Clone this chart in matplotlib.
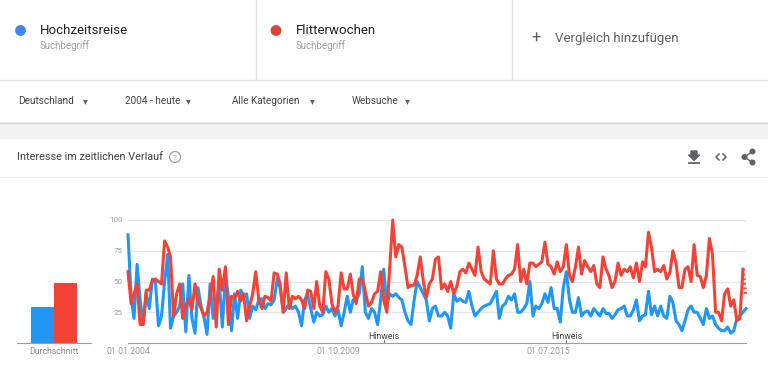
import pandas as pd
import matplotlib
matplotlib.use("Agg")
import matplotlib.pyplot as plt
from matplotlib.patches import Circle, Polygon

plt.rcParams['font.family'] = ['Roboto', 'DejaVu Sans']

# data (monthly values, Jan 2004 onwards)
terms = ['Hochzeitsreise', 'Flitterwochen']
term_kind = 'Suchbegriff'
filters = ['Deutschland', '2004 - heute', 'Alle Kategorien', 'Websuche']
averages = [29, 49]
start_month = '2004-01-01'

hochzeitsreise = [
    88, 38, 20, 64, 35, 15, 40, 28, 52, 50, 14, 22, 50, 72, 12, 22, 25, 30, 48, 9,
    55, 20, 8, 45, 30, 20, 7, 48, 20, 30, 50, 13, 55, 38, 10, 40, 20, 43, 38, 40,
    20, 30, 27,
    35, 36, 28, 32, 31, 35, 52, 45, 25, 28, 32, 28, 30, 25, 14, 35, 40, 28, 17, 25,
    22, 23, 30, 25, 28, 22, 27, 14, 25, 38, 25, 35, 35, 40, 62, 25, 20, 28, 25, 15,
    35, 60, 30, 40, 38, 40, 37, 35, 25, 18, 15, 35, 50, 45, 40, 35, 18, 28, 30, 22,
    22, 25, 22, 12, 40, 34, 36, 34, 33, 42, 30, 22, 25, 28, 30, 31, 32, 37, 42, 20,
    30, 32, 38,
    35, 40, 25, 25, 28, 32, 50, 22, 30, 28, 32, 40, 33, 45, 28, 28, 17, 45, 58, 35,
    25, 25, 37, 22, 25, 26, 22, 28, 25, 22, 28, 24, 24, 20, 23, 27, 28, 30, 22, 22,
    27, 35, 18, 22, 23, 42, 23, 30, 22, 30, 22, 20, 38, 33, 18, 15, 10, 18, 27, 30,
    25, 25, 20, 15, 28, 20, 22, 15, 12, 10, 10, 13, 8, 10, 20, 22, 25, 28,
]
flitterwochen = [
    58, 32, 40, 48, 15, 15, 43, 43, 51, 52, 50, 48, 83, 78, 70, 22, 40, 48, 20, 30,
    36, 27, 48, 34, 28, 22, 25, 38, 54, 13, 60, 43, 62, 15, 38, 36, 42, 34, 40, 18,
    30, 40, 58,
    35, 28, 38, 37, 34, 57, 56, 48, 25, 57, 28, 38, 36, 38, 35, 28, 43, 42, 28, 50,
    30, 25, 58, 52, 32, 25, 30, 57, 44, 44, 56, 40, 32, 52, 52, 42, 30, 33, 40, 42,
    58, 35, 25, 60, 100, 70, 80, 78, 62, 45, 47, 47, 55, 70, 50, 37, 48, 52, 68, 70,
    44, 48, 42, 50, 40, 46, 58, 60, 57, 65, 60, 55, 78, 58, 52, 50, 48, 75, 52, 48,
    48, 52, 55,
    56, 60, 80, 50, 60, 48, 65, 65, 62, 64, 66, 82, 64, 62, 56, 66, 58, 62, 80, 55,
    50, 62, 78, 56, 67, 62, 58, 63, 48, 45, 70, 60, 55, 45, 50, 65, 55, 60, 58, 62,
    53, 65, 50, 66, 62, 90, 78, 58, 60, 58, 63, 52, 57, 75, 65, 45, 45, 60, 62, 50,
    80, 55, 54, 45, 55, 85, 72, 25, 25, 18, 40, 44, 30, 35, 18, 20, 60, 38,
]

yticks = [25, 50, 75, 100]
tick_dates = ['2004-01-01', '2009-10-01', '2015-07-01']
tick_labels = ['01.01.2004', '01.10.2009', '01.07.2015']
note_dates = ['2011-01-01', '2016-01-01']

BLUE = '#2196f3'
RED = '#f44336'
DOT_BLUE = '#4285f4'
DOT_RED = '#db4437'
ICON = '#5f6368'
W, H = 768, 383


def box(x0, y0, x1, y1):  # pixel box (top-left origin) -> figure rect
    return [x0 / W, 1 - y1 / H, (x1 - x0) / W, (y1 - y0) / H]


fig = plt.figure(figsize=(W / 100, H / 100), dpi=100, facecolor='white')

# page furniture drawn in pixel coordinates
ui = fig.add_axes([0, 0, 1, 1])
ui.set_xlim(0, W)
ui.set_ylim(H, 0)
ui.axis('off')

ui.plot([256, 256], [0, 79], color='#e0e0e0', lw=1)
ui.plot([512, 512], [0, 79], color='#e0e0e0', lw=1)
ui.plot([0, W], [79.5, 79.5], color='#e6e6e6', lw=1)

for x, term, dot in zip([20.5, 276], terms, [DOT_BLUE, DOT_RED]):
    ui.add_patch(Circle((x, 30.5), 4.7, color=dot))
    ui.text(x + 19.5, 30.5, term, fontsize=9.5, color='#212121', va='center')
    ui.text(x + 19.5, 46, term_kind, fontsize=7, color='#9e9e9e', va='center')
ui.text(536.5, 38, '+', fontsize=12, color='#616161', ha='center', va='center')
ui.text(555, 38.5, 'Vergleich hinzufügen', fontsize=9.5, color='#616161', va='center')

for x, label, arrow in zip([18, 125, 232, 352], filters, [85, 188, 312, 407]):
    ui.text(x, 101, label, fontsize=7.2, color='#424242', va='center')
    ui.text(arrow, 101, '▾', fontsize=7, color='#616161', ha='center', va='center')

ui.fill_between([0, W], 122, 139, color='#f2f2f2', lw=0)
ui.plot([0, W], [122.5, 122.5], color='#d6d6d6', lw=1)

ui.text(17, 157, 'Interesse im zeitlichen Verlauf', fontsize=7.8, color='#424242', va='center')
ui.add_patch(Circle((175, 157), 5.5, fill=False, ec='#9e9e9e', lw=0.9))
ui.text(175, 157.5, '?', fontsize=6, color='#9e9e9e', ha='center', va='center')
ui.plot([0, W], [176.5, 176.5], color='#eeeeee', lw=1)

# download, embed and share icons
ui.add_patch(Polygon([[691, 151], [697, 151], [697, 155], [699.5, 155], [694, 160.5], [688.5, 155], [691, 155]],
                     closed=True, color=ICON))
ui.plot([689, 699], [162.5, 162.5], color=ICON, lw=1.3)
ui.plot([719, 716, 719], [154, 157, 160], color=ICON, lw=1.1)
ui.plot([723, 726, 723], [154, 157, 160], color=ICON, lw=1.1)
ui.plot([752.5, 744.5, 752.5], [151.5, 157, 162.5], color=ICON, lw=1)
for sx, sy in [(752.5, 151.5), (744.5, 157), (752.5, 162.5)]:
    ui.add_patch(Circle((sx, sy), 2.3, color=ICON))

# average bars
bx = fig.add_axes(box(17, 220, 91, 343))
bx.bar([0, 1], averages, width=1, color=[BLUE, RED])
bx.set_xlim(-1.13, 2.11)
bx.set_ylim(0, 100)
bx.set_xticks([0.5])
bx.set_xticklabels(['Durchschnitt'])
bx.set_yticks([])
bx.tick_params(length=0, labelsize=6.2, colors='#8a8a8a', pad=2.7)
for s in ['top', 'left', 'right']:
    bx.spines[s].set_visible(False)
bx.spines['bottom'].set_color('#9e9e9e')
bx.patch.set_alpha(0)

# interest over time
dates = pd.date_range(start_month, periods=len(hochzeitsreise), freq='MS')
ax = fig.add_axes(box(128, 220, 746, 343))
ax.plot(dates, hochzeitsreise, color=BLUE, lw=2.2, clip_on=False, solid_joinstyle='round')
ax.plot(dates[:-1], flitterwochen[:-1], color=RED, lw=2.2, clip_on=False, solid_joinstyle='round')
ax.plot(dates[-2:], flitterwochen[-2:], color=RED, lw=2.2, ls=(0, (0.6, 0.9)), clip_on=False)
ax.set_xlim(dates[0], dates[-1])
ax.set_ylim(0, 100)
ax.set_yticks(yticks)
ax.set_xticks(pd.to_datetime(tick_dates))
ax.set_xticklabels(tick_labels)
ax.grid(axis='y', color='#e6e6e6', lw=1)
ax.set_axisbelow(True)
ax.tick_params(axis='y', length=0, labelsize=5.8, colors='#9e9e9e', pad=4)
ax.tick_params(axis='x', length=0, labelsize=6.3, colors='#9e9e9e', pad=2.7)
for s in ['top', 'left', 'right']:
    ax.spines[s].set_visible(False)
ax.spines['bottom'].set_color('#9e9e9e')
ax.patch.set_alpha(0)

for d in pd.to_datetime(note_dates):
    ax.plot([d, d], [0, 2.5], color='#757575', lw=0.8, zorder=5)
    ax.text(d, 5.5, 'Hinweis', fontsize=6.3, color='#424242', ha='center', va='center', zorder=6)

fig.savefig('out.png', dpi=100, facecolor='white')
